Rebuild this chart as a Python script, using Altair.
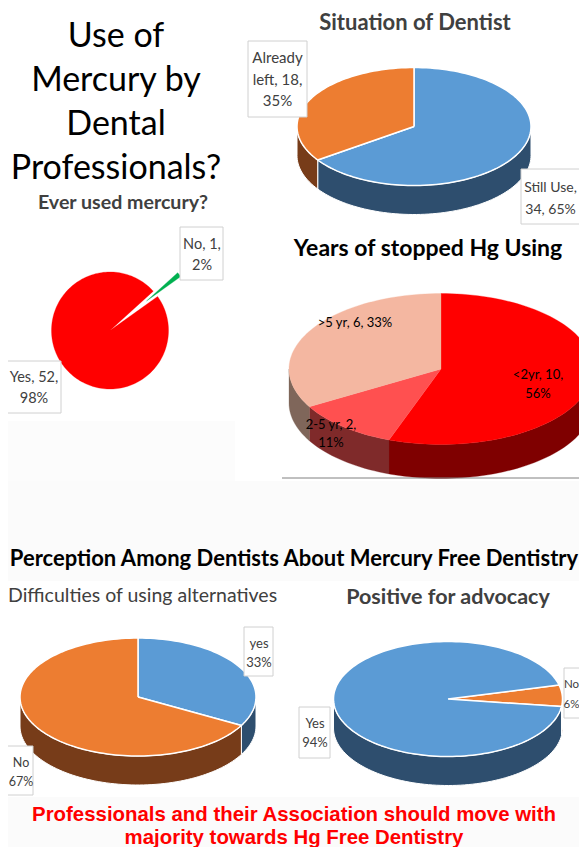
import math
import altair as alt
import pandas as pd

# ---- values ----
dentist_labels = ["Still Use", "Already left"]
dentist_values = [34, 18]
ever_labels = ["No", "Yes"]
ever_values = [1, 52]
years_labels = ["<2yr", "2-5 yr", ">5 yr"]
years_values = [10, 2, 6]
difficult_labels = ["yes", "No"]
difficult_values = [33, 67]
advocacy_labels = ["No", "Yes"]
advocacy_values = [6, 94]

BLUE, BLUE_D = "#5B9BD5", "#2E4E6E"
ORANGE, ORANGE_D = "#ED7D31", "#773C19"
RED, RED_D = "#FF0000", "#7F0000"
ROSE, ROSE_D = "#FF5050", "#7F2A2A"
PEACH, PEACH_D = "#F4B7A1", "#7F665A"
GREEN = "#00B050"
TEXT = "#404040"
BODY = "Lato"

X = alt.Scale(domain=[8, 579])
Y = alt.Scale(domain=[847, 8])


def ex(f="x"):
    return alt.X(f"{f}:Q", scale=X, axis=None)


def ey(f="y"):
    return alt.Y(f"{f}:Q", scale=Y, axis=None)


def poly(points, fill, stroke=None, sw=1.5):
    df = pd.DataFrame(points + points[:1], columns=["x", "y"])
    df["o"] = range(len(df))
    kw = dict(fill=fill, strokeWidth=sw, strokeJoin="round")
    kw["stroke"] = stroke if stroke else fill
    if not stroke:
        kw["strokeWidth"] = 0.3
    return alt.Chart(df).mark_line(**kw).encode(x=ex(), y=ey(), order="o:Q")


def ell(cx, cy, rx, ry, a):
    r = math.radians(a)
    return (cx + rx * math.sin(r), cy - ry * math.cos(r))


def span(a0, a1):
    n = max(2, int(abs(a1 - a0) / 2))
    return [a0 + (a1 - a0) * i / n for i in range(n + 1)]


def pie(values, colors, sides, cx, cy, rx, ry, depth, start, stroke=None):
    total = sum(values)
    edges = [start]
    for v in values:
        edges.append(edges[-1] + 360 * v / total)
    side_layers, top_layers = [], []
    for i, (c, s) in enumerate(zip(colors, sides)):
        a0, a1 = edges[i], edges[i + 1]
        for lo, hi in ((90, 270), (450, 630)):
            b0, b1 = max(a0, lo), min(a1, hi)
            if b1 > b0:
                angs = span(b0, b1)
                upper = [ell(cx, cy, rx, ry, a) for a in angs]
                lower = [(x, y + depth) for x, y in reversed(upper)]
                side_layers.append(poly(upper + lower, s, stroke, 1))
        pts = [(cx, cy)] + [ell(cx, cy, rx, ry, a) for a in span(a0, a1)]
        top_layers.append(poly(pts, c, stroke))
    return side_layers + top_layers


def wedge(cx, cy, r, a0, a1, explode, fill):
    mid = math.radians((a0 + a1) / 2)
    ax = cx + explode * math.sin(mid)
    ay = cy - explode * math.cos(mid)
    return poly([(ax, ay)] + [ell(ax, ay, r, r, a) for a in span(a0, a1)], fill)


def box(x0, x1, y0, y1):
    df = pd.DataFrame({"x": [x0], "x2": [x1], "y": [y0], "y2": [y1]})
    return alt.Chart(df).mark_rect(fill="white", stroke="#D0D0D0", strokeWidth=1).encode(
        x=ex(), x2="x2:Q", y=ey(), y2="y2:Q")


def rect(x0, x1, y0, y1, fill):
    df = pd.DataFrame({"x": [x0], "x2": [x1], "y": [y0], "y2": [y1]})
    return alt.Chart(df).mark_rect(fill=fill).encode(x=ex(), x2="x2:Q", y=ey(), y2="y2:Q")


def txt(s, x, y, size=14, color=TEXT, bold=False, font=BODY, align="center"):
    df = pd.DataFrame({"x": [x], "y": [y], "t": [s]})
    return alt.Chart(df).mark_text(
        fontSize=size, color=color, font=font, align=align, baseline="alphabetic",
        fontWeight="bold" if bold else "normal",
    ).encode(x=ex(), y=ey(), text="t:N")


layers = [
    rect(8, 587, 481, 581, "#FBFBFB"),
    rect(8, 587, 797, 847, "#FBFBFB"),
    rect(8, 235, 421, 481, "#FCFCFC"),
]

# Ever used mercury: flat pie with one slice pulled out
no_share = 360 * ever_values[0] / sum(ever_values)
ever_start = 47.7
layers.append(wedge(110, 330.5, 42, ever_start, ever_start + no_share, 47, GREEN))
layers.append(poly([(110, 330.5)] + [ell(110, 330.5, 58.5, 58.5, a) for a in
                                     span(ever_start + no_share, ever_start + 360)], RED))

layers += pie(dentist_values, [BLUE, ORANGE], [BLUE_D, ORANGE_D], 414, 126.5, 117, 59, 29, 0, "white")
layers += pie(years_values, [RED, ROSE, PEACH], [RED_D, ROSE_D, PEACH_D], 441, 369, 152, 75.5, 34, 0)
layers += pie(difficult_values, [BLUE, ORANGE], [BLUE_D, ORANGE_D], 138, 697, 118, 59, 29, 0, "white")
layers += pie(advocacy_values, [ORANGE, BLUE], [ORANGE_D, BLUE_D], 448, 699, 114.5, 57.5, 29, 76, "white")

# rule under the years chart
rule_df = pd.DataFrame({"x": [282], "x2": [587], "y": [478]})
layers.append(alt.Chart(rule_df).mark_rule(color="#808080", strokeWidth=1).encode(
    x=ex(), x2="x2:Q", y=ey()))

# label boxes
layers += [
    box(248, 307, 41, 117), box(521, 590, 169, 224),
    box(180, 223, 227, 280), box(7, 61, 361, 413),
    box(244, 273, 627, 676), box(3, 33, 746, 795),
    box(299, 330, 707, 758), box(564, 592, 668, 718),
]

texts = [
    ("Use of", 116, 47, 34, "#000000", False),
    ("Mercury by", 116, 91, 34, "#000000", False),
    ("Dental", 116, 135, 34, "#000000", False),
    ("Professionals?", 116, 179, 34, "#000000", False),
    ("Ever used mercury?", 123, 209, 19.6, TEXT, True),
    ("Situation of Dentist", 415, 30, 22, TEXT, True),
    ("Years of stopped Hg Using", 428, 256, 23, "#000000", True),
    ("Perception Among Dentists About Mercury Free Dentistry", 294, 566, 22, "#000000", True),
    ("Difficulties of using alternatives", 8, 602, 19.5, TEXT, False),
    ("Positive for advocacy", 448, 604, 21.5, TEXT, True),
    ("Already", 277.5, 63, 15, TEXT, False), ("left, 18,", 277.5, 85, 15, TEXT, False), ("35%", 277.5, 106, 15, TEXT, False),
    ("Still Use,", 550.5, 192, 14, TEXT, False), ("34, 65%", 550.5, 214, 14, TEXT, False),
    ("No, 1,", 202, 249, 14.5, TEXT, False), ("2%", 202, 270, 14.5, TEXT, False),
    ("Yes, 52,", 34, 382, 14.5, TEXT, False), ("98%", 34, 403, 14.5, TEXT, False),
    (">5 yr, 6, 33%", 355, 327, 13, "#000000", False),
    ("<2yr, 10,", 538, 379, 13, "#000000", False), ("56%", 538, 398, 13, "#000000", False),
    ("2-5 yr, 2,", 331, 429, 13, "#000000", False), ("11%", 331, 447, 13, "#000000", False),
    ("yes", 259, 648, 13, TEXT, False), ("33%", 259, 667, 13, TEXT, False),
    ("No", 21, 767, 12.5, TEXT, False), ("67%", 21, 786, 12.5, TEXT, False),
    ("Yes", 315, 728, 13, TEXT, False), ("94%", 315, 747, 13, TEXT, False),
    ("No", 571.5, 688, 11.5, TEXT, False), ("6%", 571.5, 708, 11.5, TEXT, False),
]
for s, x, y, size, color, bold in texts:
    layers.append(txt(s, x, y, size, color, bold, align="left" if s.startswith("Difficulties") else "center"))

layers.append(txt("Professionals and  their Association should move with", 294, 821, 20.4, "#FF0000", True, "Liberation Sans"))
layers.append(txt("majority towards Hg Free Dentistry", 294, 844, 20.4, "#FF0000", True, "Liberation Sans"))

chart = alt.layer(*layers).properties(
    width=571, height=839, padding=0, autosize=alt.AutoSizeParams(type="none"), background="white"
).configure_view(stroke=None)

chart.save("out.html", embed_options={"renderer": "svg", "actions": False})
